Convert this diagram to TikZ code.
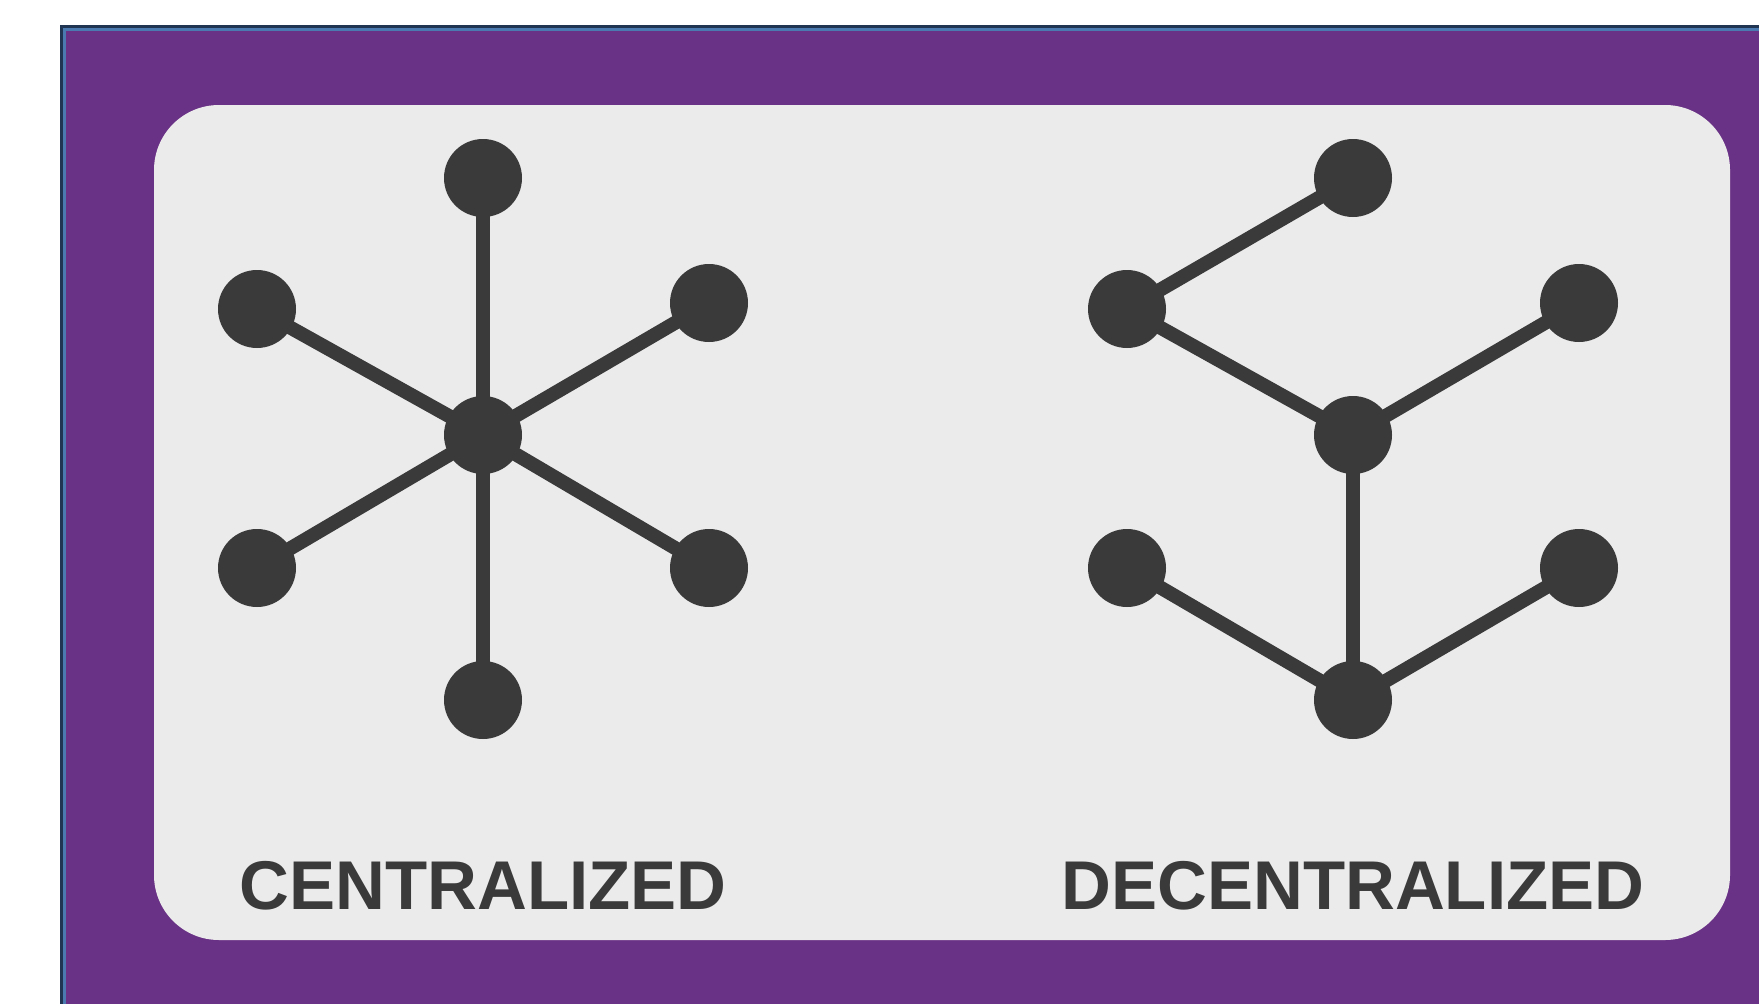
\documentclass[tikz,border=0pt]{standalone}
\usepackage{fontspec}
\usetikzlibrary{backgrounds}
\setmainfont{Liberation Sans}
\definecolor{framedark}{HTML}{1F3552}
\definecolor{frameblue}{HTML}{4A7AB0}
\definecolor{bgpurple}{HTML}{6A3286}
\definecolor{panelgray}{HTML}{EBEBEB}
\definecolor{nodegray}{HTML}{3A3A3A}
\tikzset{
  peer/.style={circle, fill=nodegray, minimum size=78pt, inner sep=0pt},
  link/.style={draw=nodegray, line width=14pt},
  caption/.style={text=nodegray, anchor=base, inner sep=0pt,
    font=\fontsize{69}{80}\selectfont\bfseries}
}
\begin{document}
\begin{tikzpicture}[x=1pt, y=-1pt]
      \useasboundingbox (0,0) rectangle (1759,1004);
      % centralized
      \node [peer] (ctr) at (483,435) {};
      \node [peer] (ctop) at (483,178) {};
      \node [peer] (cbot) at (483,700) {};
      \node [peer] (cul) at (257,309) {};
      \node [peer] (cur) at (709,303) {};
      \node [peer] (cll) at (257,568) {};
      \node [peer] (clr) at (709,568) {};
      \node [caption] (clabel) at (483,909) {CENTRALIZED};
      % decentralized
      \node [peer] (dtop) at (1353,178) {};
      \node [peer] (dleft) at (1127,309) {};
      \node [peer] (dright) at (1579,303) {};
      \node [peer] (dmid) at (1353,435) {};
      \node [peer] (dll) at (1127,568) {};
      \node [peer] (dlr) at (1579,568) {};
      \node [peer] (dbot) at (1353,700) {};
      \node [caption] (dlabel) at (1353,909) {DECENTRALIZED};
      \begin{pgfonlayer}{background}
        % frame and panel
        \fill [framedark] (60,25) rectangle (1759,1004);
        \fill [frameblue] (63,28) rectangle (1759,1004);
        \fill [bgpurple] (66,31) rectangle (1759,1004);
        \fill [panelgray, rounded corners=65pt] (154,105) rectangle (1730,940);
        % links
        \foreach \n in {ctop,cbot,cul,cur,cll,clr}
          \draw [link] (ctr.center) -- (\n.center);
        \draw [link] (dtop.center) -- (dleft.center) -- (dmid.center) -- (dright.center);
        \draw [link] (dmid.center) -- (dbot.center);
        \draw [link] (dll.center) -- (dbot.center) -- (dlr.center);
      \end{pgfonlayer}
    \end{tikzpicture}
\end{document}
